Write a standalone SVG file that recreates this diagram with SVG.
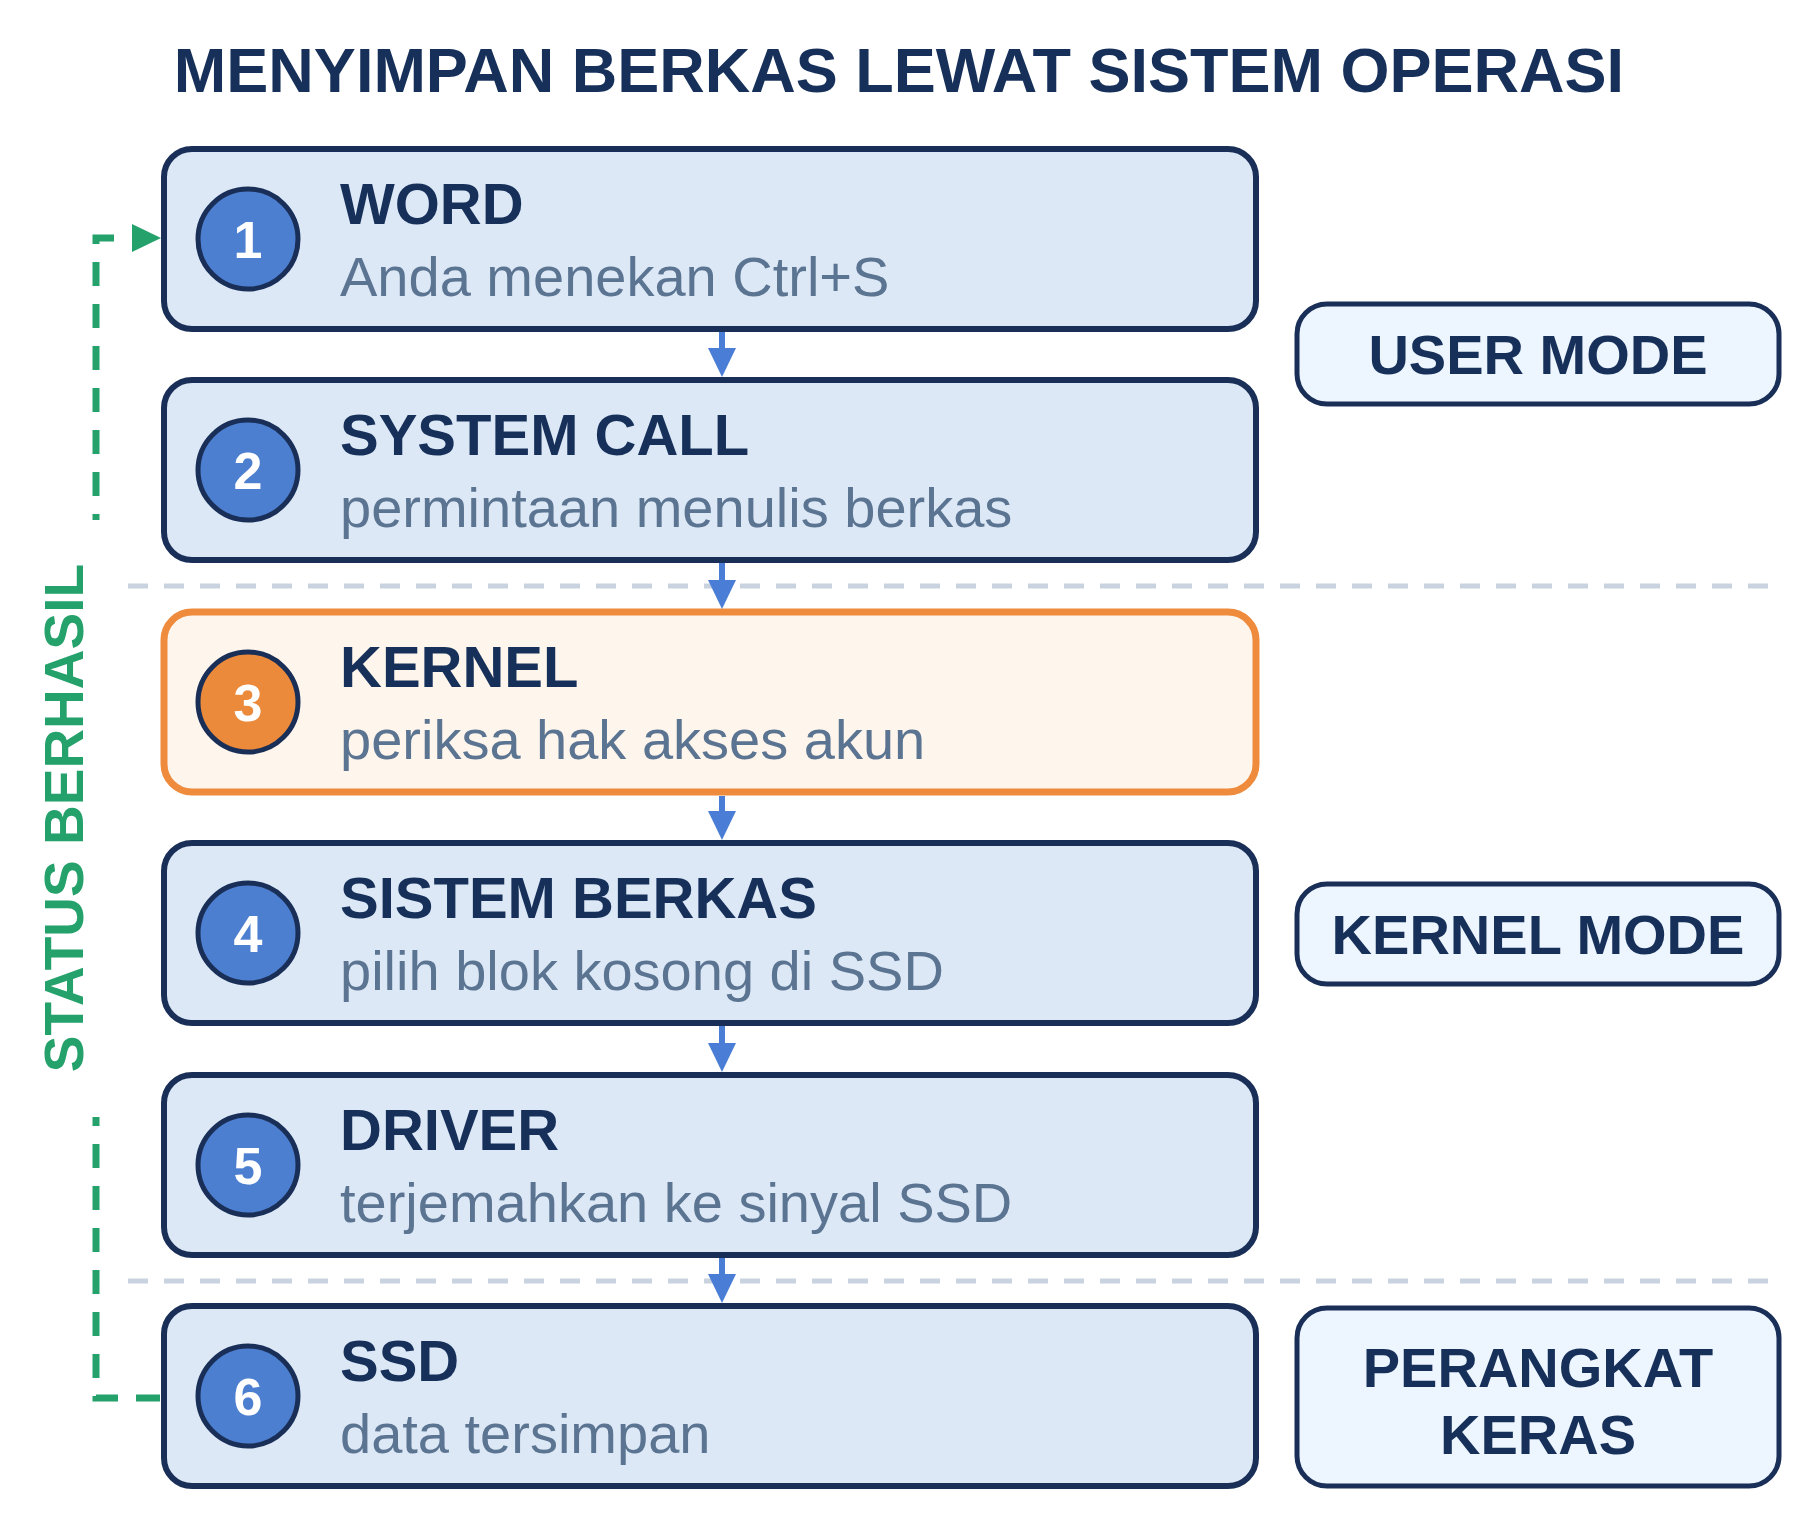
<svg xmlns="http://www.w3.org/2000/svg" width="1800" height="1536" viewBox="0 0 1800 1536">
  <style>
    .title { font-family: "Liberation Sans", Arial, sans-serif; font-weight: bold; font-size: 63px; fill: #16305a; }
    .box { fill: #dce8f6; stroke: #1a2f57; stroke-width: 6; }
    .box-hl { fill: #fef5ec; stroke: #ee8b3d; stroke-width: 7; }
    .badge { fill: #4d7fd1; stroke: #1a2f57; stroke-width: 5; }
    .badge-hl { fill: #ec8a3c; stroke: #1a2f57; stroke-width: 5; }
    .num { font-family: "Liberation Sans", Arial, sans-serif; font-weight: bold; font-size: 52px; fill: #ffffff; text-anchor: middle; }
    .head { font-family: "Liberation Sans", Arial, sans-serif; font-weight: bold; font-size: 58px; fill: #16305a; }
    .sub { font-family: "Liberation Sans", Arial, sans-serif; font-size: 56px; fill: #5b7491; }
    .mode { fill: #edf5fe; stroke: #1a2f57; stroke-width: 5; }
    .mode-text { font-family: "Liberation Sans", Arial, sans-serif; font-weight: bold; font-size: 56px; fill: #16305a; text-anchor: middle; }
    .sep { stroke: #c9d2df; stroke-width: 5; stroke-dasharray: 20 16; fill: none; }
    .flow { stroke: #4a7ed6; stroke-width: 6; fill: none; }
    .back { stroke: #25a26b; stroke-width: 7; stroke-dasharray: 24 18; fill: none; }
    .status { font-family: "Liberation Sans", Arial, sans-serif; font-weight: bold; font-size: 55px; fill: #25a26b; text-anchor: middle; }
  </style>
  <defs>
    <marker id="arrowBlue" markerUnits="userSpaceOnUse" markerWidth="29" markerHeight="28" refX="0" refY="14" orient="auto">
      <path d="M0,0 L29,14 L0,28 z" fill="#4a7ed6"/>
    </marker>
    <marker id="arrowGreen" markerUnits="userSpaceOnUse" markerWidth="29" markerHeight="28" refX="0" refY="14" orient="auto">
      <path d="M0,0 L29,14 L0,28 z" fill="#25a26b"/>
    </marker>
    <mask id="labelGap" maskUnits="userSpaceOnUse" x="0" y="0" width="1800" height="1536">
      <rect x="0" y="0" width="1800" height="1536" fill="#ffffff"/>
      <rect x="70" y="520" width="60" height="597" fill="#000000"/>
    </mask>
  </defs>

  <rect x="0" y="0" width="1800" height="1536" fill="#ffffff"/>

  <text id="title" class="title" x="899" y="92" text-anchor="middle">MENYIMPAN BERKAS LEWAT SISTEM OPERASI</text>

  <g id="separators">
    <line class="sep" x1="128" y1="586" x2="1780" y2="586"/>
    <line class="sep" x1="128" y1="1281" x2="1780" y2="1281"/>
  </g>

  <g id="node-1">
    <rect class="box" x="164" y="149" width="1092" height="180" rx="28"/>
    <circle class="badge" cx="248" cy="239" r="50"/>
    <text class="num" x="248" y="258">1</text>
    <text class="head" x="340" y="224">WORD</text>
    <text class="sub" x="340" y="296">Anda menekan Ctrl+S</text>
  </g>

  <g id="node-2">
    <rect class="box" x="164" y="380" width="1092" height="180" rx="28"/>
    <circle class="badge" cx="248" cy="470" r="50"/>
    <text class="num" x="248" y="489">2</text>
    <text class="head" x="340" y="455">SYSTEM CALL</text>
    <text class="sub" x="340" y="527">permintaan menulis berkas</text>
  </g>

  <g id="node-3">
    <rect class="box-hl" x="164" y="612" width="1092" height="180" rx="28"/>
    <circle class="badge-hl" cx="248" cy="702" r="50"/>
    <text class="num" x="248" y="721">3</text>
    <text class="head" x="340" y="687">KERNEL</text>
    <text class="sub" x="340" y="759">periksa hak akses akun</text>
  </g>

  <g id="node-4">
    <rect class="box" x="164" y="843" width="1092" height="180" rx="28"/>
    <circle class="badge" cx="248" cy="933" r="50"/>
    <text class="num" x="248" y="952">4</text>
    <text class="head" x="340" y="918">SISTEM BERKAS</text>
    <text class="sub" x="340" y="990">pilih blok kosong di SSD</text>
  </g>

  <g id="node-5">
    <rect class="box" x="164" y="1075" width="1092" height="180" rx="28"/>
    <circle class="badge" cx="248" cy="1165" r="50"/>
    <text class="num" x="248" y="1184">5</text>
    <text class="head" x="340" y="1150">DRIVER</text>
    <text class="sub" x="340" y="1222">terjemahkan ke sinyal SSD</text>
  </g>

  <g id="node-6">
    <rect class="box" x="164" y="1306" width="1092" height="180" rx="28"/>
    <circle class="badge" cx="248" cy="1396" r="50"/>
    <text class="num" x="248" y="1415">6</text>
    <text class="head" x="340" y="1381">SSD</text>
    <text class="sub" x="340" y="1453">data tersimpan</text>
  </g>

  <g id="mode-user">
    <rect class="mode" x="1297" y="304" width="482" height="100" rx="30"/>
    <text class="mode-text" x="1538" y="374">USER MODE</text>
  </g>

  <g id="mode-kernel">
    <rect class="mode" x="1297" y="884" width="482" height="100" rx="30"/>
    <text class="mode-text" x="1538" y="954">KERNEL MODE</text>
  </g>

  <g id="mode-hardware">
    <rect class="mode" x="1297" y="1308" width="482" height="178" rx="30"/>
    <text class="mode-text" x="1538" y="1387">PERANGKAT</text>
    <text class="mode-text" x="1538" y="1454">KERAS</text>
  </g>

  <g id="connectors">
    <line class="flow" x1="722" y1="332" x2="722" y2="348" marker-end="url(#arrowBlue)"/>
    <line class="flow" x1="722" y1="563" x2="722" y2="580" marker-end="url(#arrowBlue)"/>
    <line class="flow" x1="722" y1="796" x2="722" y2="811" marker-end="url(#arrowBlue)"/>
    <line class="flow" x1="722" y1="1026" x2="722" y2="1043" marker-end="url(#arrowBlue)"/>
    <line class="flow" x1="722" y1="1258" x2="722" y2="1274" marker-end="url(#arrowBlue)"/>
    <path class="back" d="M160,1398 L96,1398 L96,238 L132,238" marker-end="url(#arrowGreen)" mask="url(#labelGap)"/>
  </g>

  <g id="label-status">
    <text class="status" transform="translate(83,818) rotate(-90)">STATUS BERHASIL</text>
  </g>
</svg>
